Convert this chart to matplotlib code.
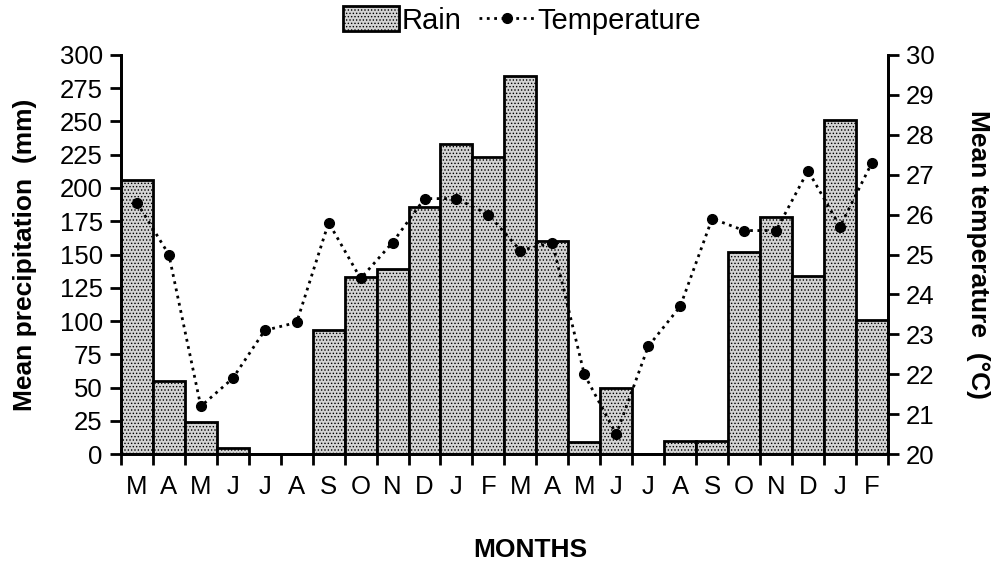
import matplotlib.pyplot as plt
import numpy as np

plt.rcParams['font.family'] = ['Liberation Sans', 'DejaVu Sans']
plt.rcParams['hatch.color'] = '#888888'
plt.rcParams['hatch.linewidth'] = 0.6

months = ['M', 'A', 'M', 'J', 'J', 'A', 'S', 'O', 'N', 'D', 'J', 'F',
          'M', 'A', 'M', 'J', 'J', 'A', 'S', 'O', 'N', 'D', 'J', 'F']
rain = [206, 55, 24, 5, 0, 0, 93, 133, 139, 186, 233, 223,
        284, 160, 9, 50, 0, 10, 10, 152, 178, 134, 251, 101]
temperature = [26.3, 25.0, 21.2, 21.9, 23.1, 23.3, 25.8, 24.4, 25.3, 26.4, 26.4, 26.0,
               25.1, 25.3, 22.0, 20.5, 22.7, 23.7, 25.9, 25.6, 25.6, 27.1, 25.7, 27.3]

x = np.arange(len(months))

fig = plt.figure(figsize=(9.91, 5.65), dpi=100)
ax = fig.add_axes([0.122, 0.196, 0.774, 0.707])
ax2 = ax.twinx()

bars = ax.bar(x + 0.5, rain, width=1.0, color='#d4d4d4', edgecolor='black',
              linewidth=2, hatch='.....', label='Rain')
line, = ax2.plot(x + 0.5, temperature, color='black', linestyle=':', linewidth=2,
                 marker='o', markersize=7, label='Temperature')

ax.set_xlim(0, 24)
ax.set_ylim(0, 300)
ax.set_yticks(np.arange(0, 301, 25))
ax2.set_ylim(20, 30)
ax2.set_yticks(np.arange(20, 31, 1))

ax.set_xticks(np.arange(0, 25))
ax.set_xticklabels([])
ax.set_xticks(x + 0.5, minor=True)
ax.set_xticklabels(months, minor=True)
ax.tick_params(axis='x', which='minor', length=0, pad=15, labelsize=18.5)
ax.tick_params(axis='x', which='major', direction='out', length=8, width=2)
ax.tick_params(axis='y', direction='out', length=8, width=2, labelsize=18.5, pad=5)
ax2.tick_params(axis='y', direction='out', length=8, width=2, labelsize=18.5, pad=5)

for a in (ax, ax2):
    a.spines['top'].set_visible(False)
    for s in ('left', 'right', 'bottom'):
        a.spines[s].set_linewidth(2)

ax.set_ylabel('Mean precipitation  (mm)', fontsize=19, fontweight='bold', labelpad=16)
ax2.set_ylabel('Mean temperature  (°C)', fontsize=19, fontweight='bold',
               rotation=270, labelpad=40)
fig.text(0.535, 1 - 550 / 565, 'MONTHS', fontsize=19, fontweight='bold',
         ha='center', va='center')

fig.legend([bars, line], ['Rain', 'Temperature'], loc='upper center',
           bbox_to_anchor=(0.527, 1.035), ncol=2, frameon=False, fontsize=21,
           handlelength=1.9, handleheight=0.9, handletextpad=0.1, columnspacing=0.6)

plt.savefig('out.png', dpi=100)
